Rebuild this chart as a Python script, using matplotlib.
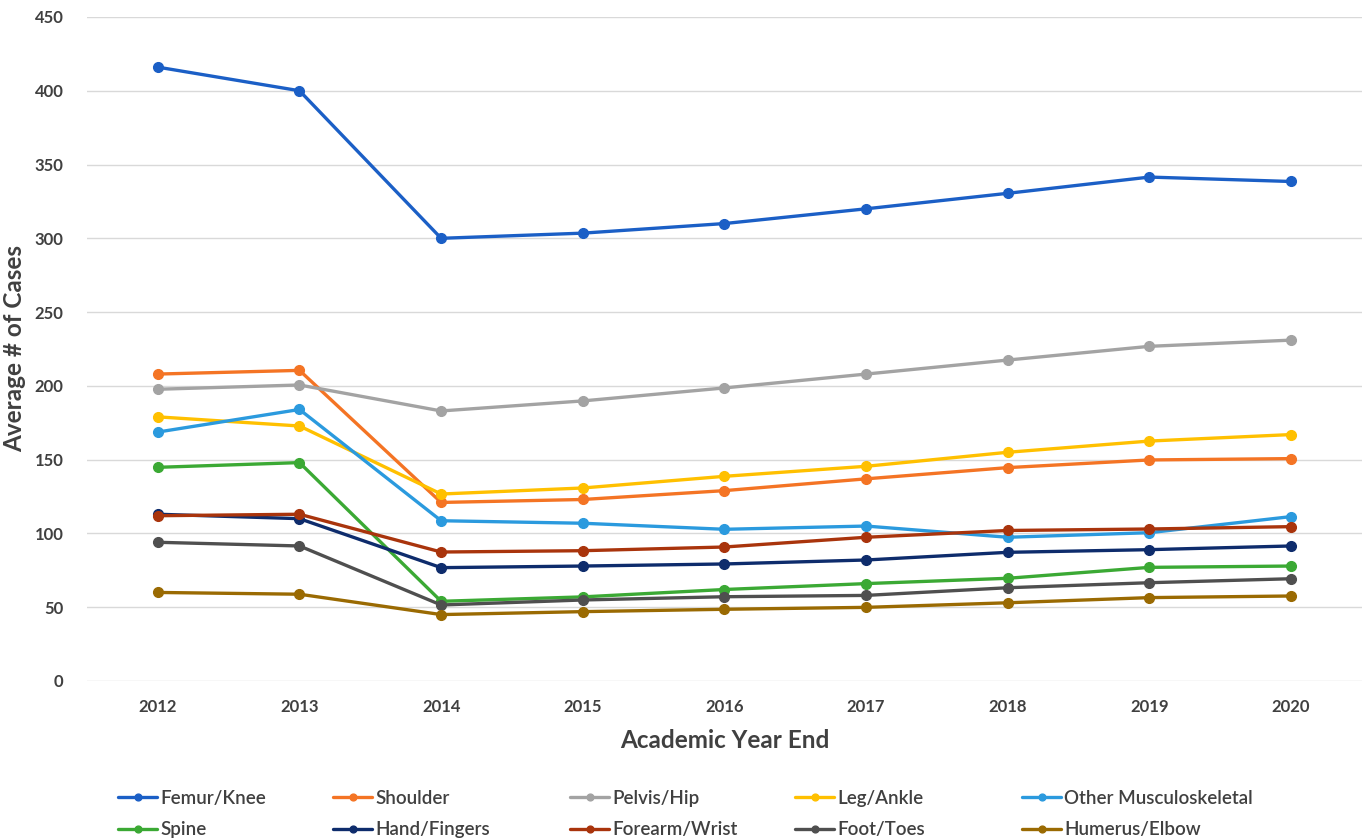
import matplotlib
matplotlib.use("Agg")
import matplotlib.pyplot as plt

years = ["2012", "2013", "2014", "2015", "2016", "2017", "2018", "2019", "2020"]

femur_knee = [416, 400, 300, 303.5, 310, 320, 330.5, 341.5, 338.5]
shoulder = [208, 210.5, 121, 123, 129, 137, 144.6, 149.8, 150.7]
pelvis_hip = [197.7, 200.6, 183, 189.8, 198.6, 208, 217.5, 226.8, 231]
leg_ankle = [179, 172.8, 126.7, 130.8, 138.7, 145.5, 155, 162.6, 167]
other_msk = [168.7, 184, 108.6, 106.9, 102.8, 105, 97.4, 100.5, 111.4]
spine = [144.8, 148, 54, 57, 62, 66, 69.6, 77, 77.9]
hand_fingers = [113, 110, 76.8, 77.9, 79.3, 82, 87.2, 89, 91.5]
forearm_wrist = [112, 113, 87.4, 88.3, 90.8, 97.4, 102, 103, 104.6]
foot_toes = [94, 91.5, 51.5, 54.9, 57.1, 58, 63.2, 66.6, 69.3]
humerus_elbow = [60, 58.8, 45, 47, 48.6, 49.9, 53, 56.5, 57.6]

series = [
    ("Femur/Knee", femur_knee, "#1b5fc6"),
    ("Shoulder", shoulder, "#f47424"),
    ("Pelvis/Hip", pelvis_hip, "#a3a3a3"),
    ("Leg/Ankle", leg_ankle, "#ffc000"),
    ("Other Musculoskeletal", other_msk, "#2b9ade"),
    ("Spine", spine, "#3ba934"),
    ("Hand/Fingers", hand_fingers, "#0e2c6c"),
    ("Forearm/Wrist", forearm_wrist, "#a9340c"),
    ("Foot/Toes", foot_toes, "#4f4f4f"),
    ("Humerus/Elbow", humerus_elbow, "#9a6a02"),
]

plt.rcParams["font.family"] = ["Lato", "DejaVu Sans"]

fig = plt.figure(figsize=(13.66, 8.4), dpi=100)
ax = fig.add_axes([0.0637, 0.1893, 0.9333, 0.7905])

x = list(range(len(years)))
handles = []
for name, vals, col in series:
    (ln,) = ax.plot(x, vals, color=col, lw=2.4, marker="o", markersize=7,
                    label=name, solid_capstyle="round")
    handles.append(ln)

ax.set_xlim(-0.5, len(years) - 0.5)
ax.set_ylim(0, 450)
ax.set_yticks(range(0, 451, 50))
ax.set_xticks(x)
ax.set_xticklabels(years)
ax.tick_params(length=0, labelsize=12, colors="#404040", pad=13)
ax.tick_params(axis="y", pad=17)
for lbl in ax.get_xticklabels() + ax.get_yticklabels():
    lbl.set_fontweight("bold")

ax.grid(axis="y", color="#d9d9d9", lw=1)
ax.set_axisbelow(True)
for s in ax.spines.values():
    s.set_visible(False)

ax.set_xlabel("Academic Year End", fontsize=17.5, fontweight="bold",
              color="#404040", labelpad=10)
ax.set_ylabel("Average # of Cases", fontsize=17.5, fontweight="bold",
              color="#404040", labelpad=6)

# one small legend per column so the columns sit on a fixed grid
col_x = [118, 333, 570, 795, 1022]
for i, cx in enumerate(col_x):
    pair = [handles[i], handles[i + 5]]
    names = [series[i][0], series[i + 5][0]]
    leg = fig.legend(pair, names, loc="upper left",
                     bbox_to_anchor=(cx / 1366, 1 - 790 / 840),
                     frameon=False, fontsize=13.5, handlelength=2.1,
                     handletextpad=0.15, labelspacing=0.75,
                     markerscale=0.7, borderpad=0, borderaxespad=0)
    for t in leg.get_texts():
        t.set_color("#404040")
        t.set_fontweight("semibold")

fig.savefig("out.png", dpi=100)
